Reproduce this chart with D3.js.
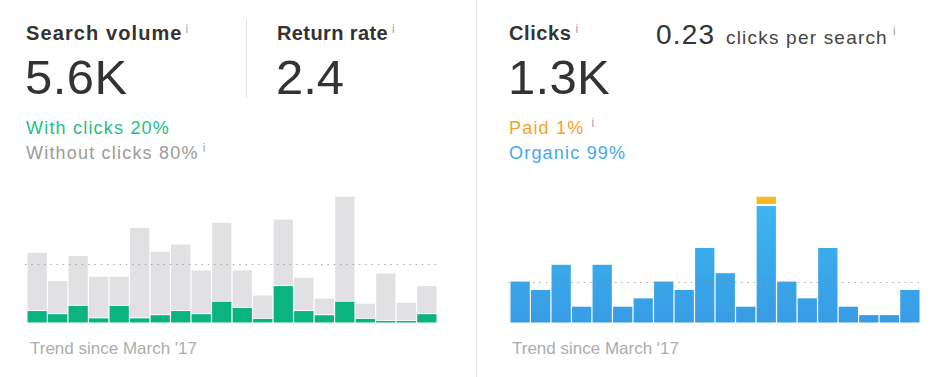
<!DOCTYPE html>
<html>
<head>
<meta charset="utf-8">
<script src="https://cdn.jsdelivr.net/npm/d3@7"></script>
<style>
  body { margin: 0; background: #fff; }
  svg text { font-family: "Liberation Sans", Arial, sans-serif; }
</style>
</head>
<body>
<div id="chart"></div>
<script>
// months covered by the trend (March '17 onwards)
var months = ["Mar 17","Apr 17","May 17","Jun 17","Jul 17","Aug 17","Sep 17","Oct 17","Nov 17","Dec 17",
              "Jan 18","Feb 18","Mar 18","Apr 18","May 18","Jun 18","Jul 18","Aug 18","Sep 18","Oct 18"];

// search volume split
var withClicks    = [1100, 800,1600, 400,1600, 400, 700,1100, 800,2000,1400, 350,3500,1100, 700, 2000, 350, 150, 150, 800];
var withoutClicks = [5600,3200,4800,4000,2800,8700,6100,6400,4200,7600,3600,2250,6400,3200,1600,10100,1450,4550,1750,2700];

// clicks split
var organicClicks = [1350,1080,1890,540,1890,540,810,1350,1080,2430,1620,540,3780,1350,810,2430,540,270,270,1080];
var paidClicks    = [0,0,0,0,0,0,0,0,0,0,0,0,270,0,0,0,0,0,0,0];

var W = 944, H = 377;

var svg = d3.select("#chart").append("svg")
    .attr("width", W)
    .attr("height", H);

var defs = svg.append("defs");
var grad = defs.append("linearGradient")
    .attr("id", "blueGrad")
    .attr("gradientUnits", "userSpaceOnUse")
    .attr("x1", 0).attr("x2", 0)
    .attr("y1", 196).attr("y2", 322);
grad.append("stop").attr("offset", "0%").attr("stop-color", "#3bb8f1");
grad.append("stop").attr("offset", "100%").attr("stop-color", "#389ce5");

// panel divider
svg.append("line")
    .attr("x1", 476.5).attr("x2", 476.5)
    .attr("y1", 0).attr("y2", H)
    .attr("stroke", "#e6e6e6");

// small divider between search volume & return rate
svg.append("line")
    .attr("x1", 246.5).attr("x2", 246.5)
    .attr("y1", 19).attr("y2", 98)
    .attr("stroke", "#e3e3e3");

function label(x, y, txt, size, weight, color, spacing, info) {
    var t = svg.append("text")
        .attr("x", x).attr("y", y)
        .attr("font-size", size)
        .attr("font-weight", weight)
        .attr("fill", color)
        .style("letter-spacing", (spacing || 0) + "px")
        .text(txt);
    if (info) {
        var w = t.node().getComputedTextLength();
        svg.append("text")
            .attr("x", x + w + info.dx)
            .attr("y", y + info.dy)
            .attr("font-size", 12)
            .attr("fill", "#a4a4a4")
            .text("i");
    }
    return t;
}

// left panel texts
label(26, 40, "Search volume", 20, "bold", "#333", 1.1, {dx: 3, dy: -7});
label(25, 94, "5.6K", 49, "normal", "#333", 0.5);
label(277, 40, "Return rate", 20, "bold", "#333", 0.4, {dx: 4, dy: -7});
label(276, 94, "2.4", 49, "normal", "#333", 0);
label(26, 134, "With clicks 20%", 18, "normal", "#1dbf86", 1.2);
label(26, 159, "Without clicks 80%", 18, "normal", "#9b9b9b", 1.2, {dx: 4, dy: -7});

// right panel texts
label(509, 40, "Clicks", 20, "bold", "#333", 0.6, {dx: 4, dy: -7});
label(656, 44, "0.23", 28, "normal", "#333", 1.2);
label(726, 44, "clicks per search", 19, "normal", "#444", 1.2, {dx: 5, dy: -9});
label(508, 94, "1.3K", 49, "normal", "#333", 0.3);
label(509, 134, "Paid 1%", 18, "normal", "#f7a325", 1.2, {dx: 7, dy: -7});
label(509, 159, "Organic 99%", 18, "normal", "#45a9f0", 1.2);

label(30, 354, "Trend since March '17", 17, "normal", "#adadad", 0);
label(512, 354, "Trend since March '17", 17, "normal", "#adadad", 0);

// ---- search volume bars
var volTotal = withClicks.map(function(d, i) { return d + withoutClicks[i]; });

var x1 = d3.scaleBand()
    .domain(months)
    .range([27.5, 436.5])
    .paddingInner(0.06);

var y1 = d3.scaleLinear()
    .domain([0, d3.max(volTotal)])
    .range([322.5, 196.7]);

var g1 = svg.append("g");

g1.selectAll("rect.without")
    .data(months)
    .enter()
    .append("rect")
        .attr("class", "without")
        .attr("x", function(d) { return x1(d); })
        .attr("width", x1.bandwidth())
        .attr("y", function(d, i) { return y1(volTotal[i]); })
        .attr("height", function(d, i) { return y1(withClicks[i]) - 1 - y1(volTotal[i]); })
        .attr("fill", "#e1e1e3");

g1.selectAll("rect.with")
    .data(months)
    .enter()
    .append("rect")
        .attr("class", "with")
        .attr("x", function(d) { return x1(d); })
        .attr("width", x1.bandwidth())
        .attr("y", function(d, i) { return y1(withClicks[i]); })
        .attr("height", function(d, i) { return y1(0) - y1(withClicks[i]); })
        .attr("fill", "#0bb47e");

// average line
var avgVol = d3.mean(volTotal);
g1.append("line")
    .attr("x1", 25).attr("x2", 440)
    .attr("y1", Math.round(y1(avgVol)) + 0.5)
    .attr("y2", Math.round(y1(avgVol)) + 0.5)
    .attr("stroke", "#999")
    .attr("stroke-opacity", 0.8)
    .attr("stroke-dasharray", "1.5,4.8");

// ---- clicks bars
var clickTotal = organicClicks.map(function(d, i) { return d + paidClicks[i]; });

var x2 = d3.scaleBand()
    .domain(months)
    .range([510.5, 919.5])
    .paddingInner(0.06);

var y2 = d3.scaleLinear()
    .domain([0, d3.max(clickTotal)])
    .range([322.5, 196.7]);

var g2 = svg.append("g");

g2.selectAll("rect.organic")
    .data(months)
    .enter()
    .append("rect")
        .attr("class", "organic")
        .attr("x", function(d) { return x2(d); })
        .attr("width", x2.bandwidth())
        .attr("y", function(d, i) { return y2(organicClicks[i]) + 1; })
        .attr("height", function(d, i) { return y2(0) - y2(organicClicks[i]) - 1; })
        .attr("fill", "url(#blueGrad)");

g2.selectAll("rect.paid")
    .data(months.filter(function(d, i) { return paidClicks[i] > 0; }))
    .enter()
    .append("rect")
        .attr("class", "paid")
        .attr("x", function(d) { return x2(d); })
        .attr("width", x2.bandwidth())
        .attr("y", function(d) { var i = months.indexOf(d); return y2(clickTotal[i]); })
        .attr("height", function(d) { var i = months.indexOf(d); return y2(organicClicks[i]) - 1 - y2(clickTotal[i]); })
        .attr("fill", "#f7b823");

var avgClicks = d3.mean(clickTotal);
g2.append("line")
    .attr("x1", 508).attr("x2", 922)
    .attr("y1", Math.round(y2(avgClicks)) + 0.5)
    .attr("y2", Math.round(y2(avgClicks)) + 0.5)
    .attr("stroke", "#999")
    .attr("stroke-opacity", 0.8)
    .attr("stroke-dasharray", "1.5,4.8");
</script>
</body>
</html>
